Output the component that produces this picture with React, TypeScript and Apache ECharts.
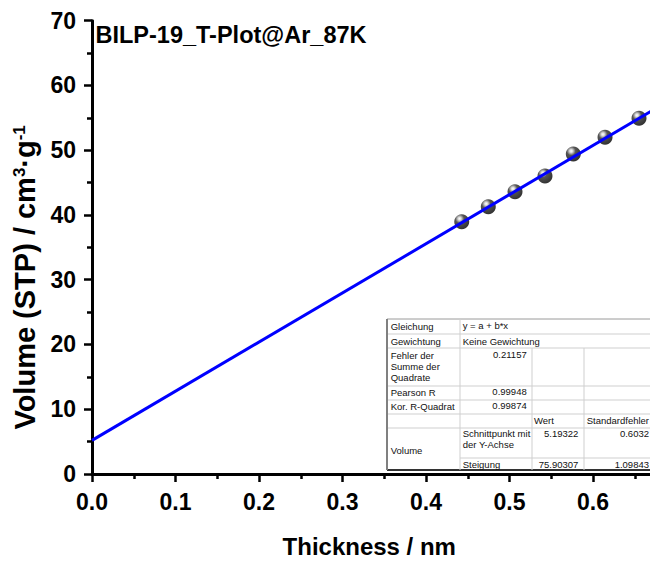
import React, { useEffect, useRef } from "react";
import * as echarts from "echarts";

// Measured data (T-plot, Ar @ 87 K)
const thicknessNm = [0.4428, 0.4746, 0.5066, 0.5425, 0.5764, 0.6144, 0.6551];
const volumeStp = [38.96, 41.27, 43.59, 46.02, 49.41, 51.99, 54.93];

// Linear fit reported in the table
const fitIntercept = 5.19322;
const fitSlope = 75.90307;
const fitXRange = [0, 0.7];

// Fit-report table texts
const colALabels = ["Gleichung", "Gewichtung", "Fehler der\nSumme der\nQuadrate", "Pearson R", "Kor. R-Quadrat", "", "Volume"];
const colBTexts = ["y = a + b*x", "Keine Gewichtung", "Schnittpunkt mit\nder Y-Achse", "Steigung"];
const colBValues = ["0.21157", "0.99948", "0.99874"];
const headerTexts = ["Wert", "Standardfehler"];
const interceptRow = ["5.19322", "0.6032"];
const slopeRow = ["75.90307", "1.09843"];

const TITLE = "BILP-19_T-Plot@Ar_87K";
const FONT = "'Liberation Sans', Arial, Helvetica, sans-serif";

// chart canvas is wider than the 650px view: the x axis continues past the right edge
const CANVAS_W = 680;
const CANVAS_H = 561;

export default function App() {
  const ref = useRef<HTMLDivElement>(null);
  useEffect(() => {
    if (!ref.current) return;
    const chart = echarts.init(ref.current, undefined, { renderer: "svg" });

    const fitData = fitXRange.map((x) => [x, fitIntercept + fitSlope * x]);
    const scatterData = thicknessNm.map((x, i) => [x, volumeStp[i]]);

    // table geometry
    const L = 387, C1 = 460, C2 = 532, C3 = 584, R = 670;
    const rows = [319, 334, 348, 386, 400, 414, 428, 458, 470];
    const tf = { fontFamily: FONT, fontSize: 9.5, fill: "#111" };
    const g: any[] = [];
    const hline = (y: number, x1: number, x2: number, stroke = "#cfcfcf", w = 1) =>
      g.push({ type: "line", shape: { x1, y1: y, x2, y2: y }, style: { stroke, lineWidth: w }, silent: true, z: 10 });
    const vline = (x: number, y1: number, y2: number, stroke = "#cfcfcf", w = 1) =>
      g.push({ type: "line", shape: { x1: x, y1, x2: x, y2 }, style: { stroke, lineWidth: w }, silent: true, z: 10 });
    const text = (x: number, y: number, t: string, align = "left") =>
      g.push({
        type: "text",
        x,
        y,
        style: { text: t, align, verticalAlign: "middle", lineHeight: 11, ...tf },
        silent: true,
        z: 11,
      });

    g.push({ type: "rect", shape: { x: L, y: rows[0], width: R - L, height: rows[8] - rows[0] }, style: { fill: "#fff" }, z: 9, silent: true });
    hline(rows[0], L, R, "#9a9a9a");
    for (let i = 1; i <= 6; i++) hline(rows[i], L, R);
    hline(rows[7], C1, R);
    hline(rows[8], L, R, "#333", 2);
    vline(L, rows[0], rows[8], "#808080", 2);
    vline(C1, rows[0], rows[8]);
    vline(C2, rows[2], rows[8]);
    vline(C3, rows[2], rows[8]);

    const ax = 390.7, bx = 462.7;
    text(ax, 326, colALabels[0]);
    text(ax, 341, colALabels[1]);
    text(ax, 366.7, colALabels[2]);
    text(ax, 392, colALabels[3]);
    text(ax, 406.5, colALabels[4]);
    text(ax, 450, colALabels[6]);
    text(bx, 325, colBTexts[0]);
    text(bx, 341, colBTexts[1]);
    text(bx, 439.3, colBTexts[2]);
    text(bx, 464.5, colBTexts[3]);
    text(526.7, 354.5, colBValues[0], "right");
    text(526.7, 391, colBValues[1], "right");
    text(526.7, 405.5, colBValues[2], "right");
    text(534, 420.5, headerTexts[0]);
    text(586.7, 420.5, headerTexts[1]);
    text(578.3, 433.5, interceptRow[0], "right");
    text(649, 433.5, interceptRow[1], "right");
    text(578.3, 464.5, slopeRow[0], "right");
    text(649, 464.5, slopeRow[1], "right");

    g.push({
      type: "text",
      x: 95.5,
      y: 34.5,
      style: { text: TITLE, fontFamily: FONT, fontWeight: "bold", fontSize: 23.5, fill: "#000", verticalAlign: "middle" },
      z: 12,
    });

    const axisCommon = {
      axisLine: { lineStyle: { color: "#000", width: 3 } },
      axisTick: { length: 8, lineStyle: { color: "#000", width: 2.5 } },
      minorTick: { show: true, splitNumber: 2, length: 5, lineStyle: { color: "#000", width: 2.5 } },
      splitLine: { show: false },
      minorSplitLine: { show: false },
      axisLabel: { fontFamily: FONT, fontWeight: "bold", fontSize: 23, color: "#000", margin: 16 },
      nameLocation: "middle" as const,
    };

    chart.setOption({
      animation: false,
      backgroundColor: "#fff",
      grid: {
        left: 92,
        right: CANVAS_W - 676.5,
        top: 20.7,
        bottom: CANVAS_H - 474,
        containLabel: false,
        outerBoundsMode: "none",
      },
      xAxis: {
        type: "value",
        min: 0,
        max: 0.7,
        interval: 0.1,
        ...axisCommon,
        axisLabel: { ...axisCommon.axisLabel, showMaxLabel: false, formatter: (v: number) => v.toFixed(1) },
        name: "Thickness / nm",
        nameGap: 60,
        nameTextStyle: { fontFamily: FONT, fontWeight: "bold", fontSize: 24, color: "#000", padding: [0, 30, 0, 0] },
      },
      yAxis: {
        type: "value",
        min: 0,
        max: 70,
        interval: 10,
        ...axisCommon,
        name: "Volume (STP) / cm{sup|3}·g{sup|-1}",
        nameGap: 41,
        nameTextStyle: {
          fontFamily: FONT,
          fontWeight: "bold",
          fontSize: 29,
          color: "#000",
          padding: [0, 60, 0, 0],
          rich: {
            sup: { fontFamily: FONT, fontWeight: "bold", fontSize: 17, verticalAlign: "top", color: "#000" },
          },
        },
      },
      series: [
        {
          type: "scatter",
          data: scatterData,
          symbol: "circle",
          symbolSize: 15,
          z: 2,
          itemStyle: {
            color: new echarts.graphic.RadialGradient(0.36, 0.3, 0.7, [
              { offset: 0, color: "#ffffff" },
              { offset: 0.15, color: "#d0d0d0" },
              { offset: 0.42, color: "#2a2a2a" },
              { offset: 1, color: "#000000" },
            ]),
          },
        },
        {
          type: "line",
          data: fitData,
          showSymbol: false,
          symbol: "none",
          z: 3,
          lineStyle: { color: "#0000ff", width: 3 },
        },
      ],
      graphic: g,
    });
    return () => chart.dispose();
  }, []);
  return <div ref={ref} style={{ position: "fixed", left: 0, top: 0, width: CANVAS_W, height: CANVAS_H }} />;
}
